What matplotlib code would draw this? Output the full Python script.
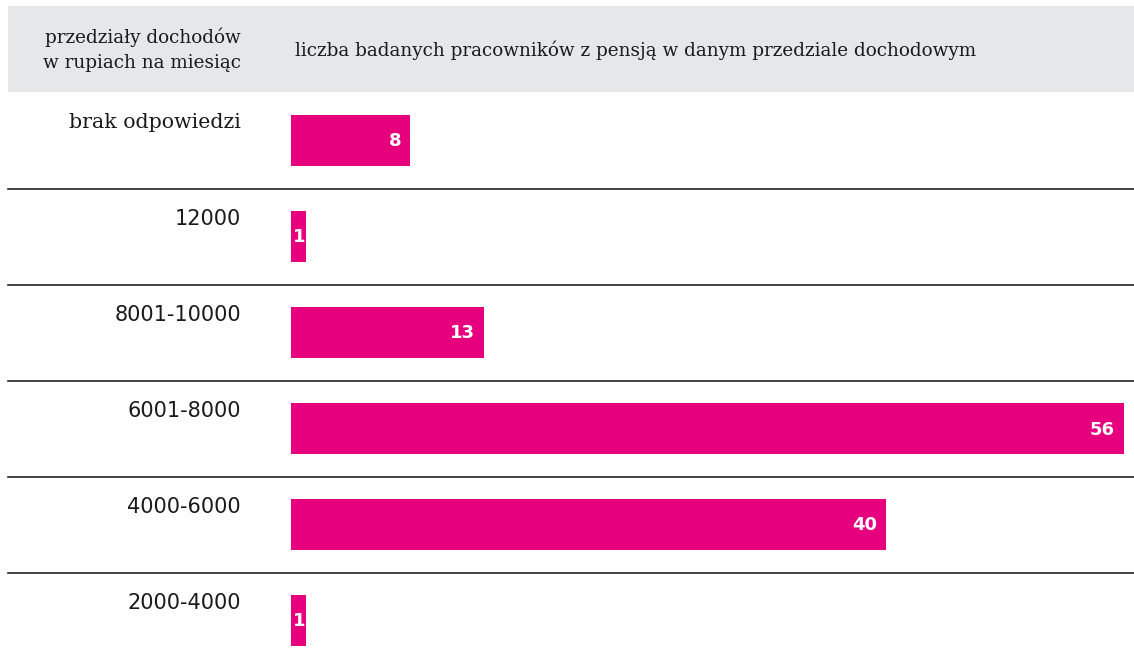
import matplotlib.pyplot as plt
from matplotlib.patches import Rectangle

# Income brackets (rupees per month) and number of surveyed workers in each
categories = ["brak odpowiedzi", "12000", "8001-10000", "6001-8000", "4000-6000", "2000-4000"]
counts = [8, 1, 13, 56, 40, 1]
header_left = "przedziały dochodów\nw rupiach na miesiąc"
header_right = "liczba badanych pracowników z pensją w danym przedziale dochodowym"

MAGENTA = "#e6007e"
GREY = "#e6e7e8"
W, H = 1134, 666

fig = plt.figure(figsize=(W / 100, H / 100), dpi=100)

# grey header band
fig.patches.append(Rectangle((8 / W, 1 - 92 / H), (W - 8) / W, 86 / H,
                             transform=fig.transFigure, facecolor=GREY,
                             edgecolor="none", zorder=0))
fig.text(241 / W, 1 - 50 / H, header_left, ha="right", va="center",
         family="DejaVu Serif", fontsize=13.2, color="#1a1a1a", linespacing=1.5)
fig.text(295 / W, 1 - 50 / H, header_right, ha="left", va="center",
         family="DejaVu Serif", fontsize=13.2, color="#1a1a1a")

ax = fig.add_axes([291 / W, 0, (W - 291) / W, (H - 92) / H])
ax.set_xlim(0, (W - 291) / 14.875)
ax.set_ylim((H - 140.5) / 96, (92 - 140.5) / 96)
ax.axis("off")

y = list(range(len(categories)))
ax.barh(y, counts, height=0.53, left=0, color=MAGENTA, zorder=2)

# separators between rows
for i in range(len(categories) - 1):
    ax.axhline(i + 0.5, xmin=(8 - 291) / (W - 291), xmax=1, color="#222222",
               lw=1.2, clip_on=False, zorder=1)

for i, (cat, n) in enumerate(zip(categories, counts)):
    is_num = cat[0].isdigit()
    ax.text(-50 / (W - 291), i - 0.285, cat, transform=ax.get_yaxis_transform(),
            ha="right", va="top", color="#1a1a1a",
            family="DejaVu Sans" if is_num else "DejaVu Serif",
            fontsize=15 if is_num else 14.8)
    if n >= 3:
        ax.annotate(str(n), (n, i), xytext=(-9, -1), textcoords="offset pixels",
                    ha="right", va="center", color="white",
                    fontsize=13, fontweight="bold", family="DejaVu Sans")
    else:
        ax.annotate(str(n), (0, i), xytext=(2, -1), textcoords="offset pixels",
                    ha="left", va="center", color="white",
                    fontsize=13, fontweight="bold", family="DejaVu Sans")

fig.savefig("out.png", dpi=100, facecolor="white")
